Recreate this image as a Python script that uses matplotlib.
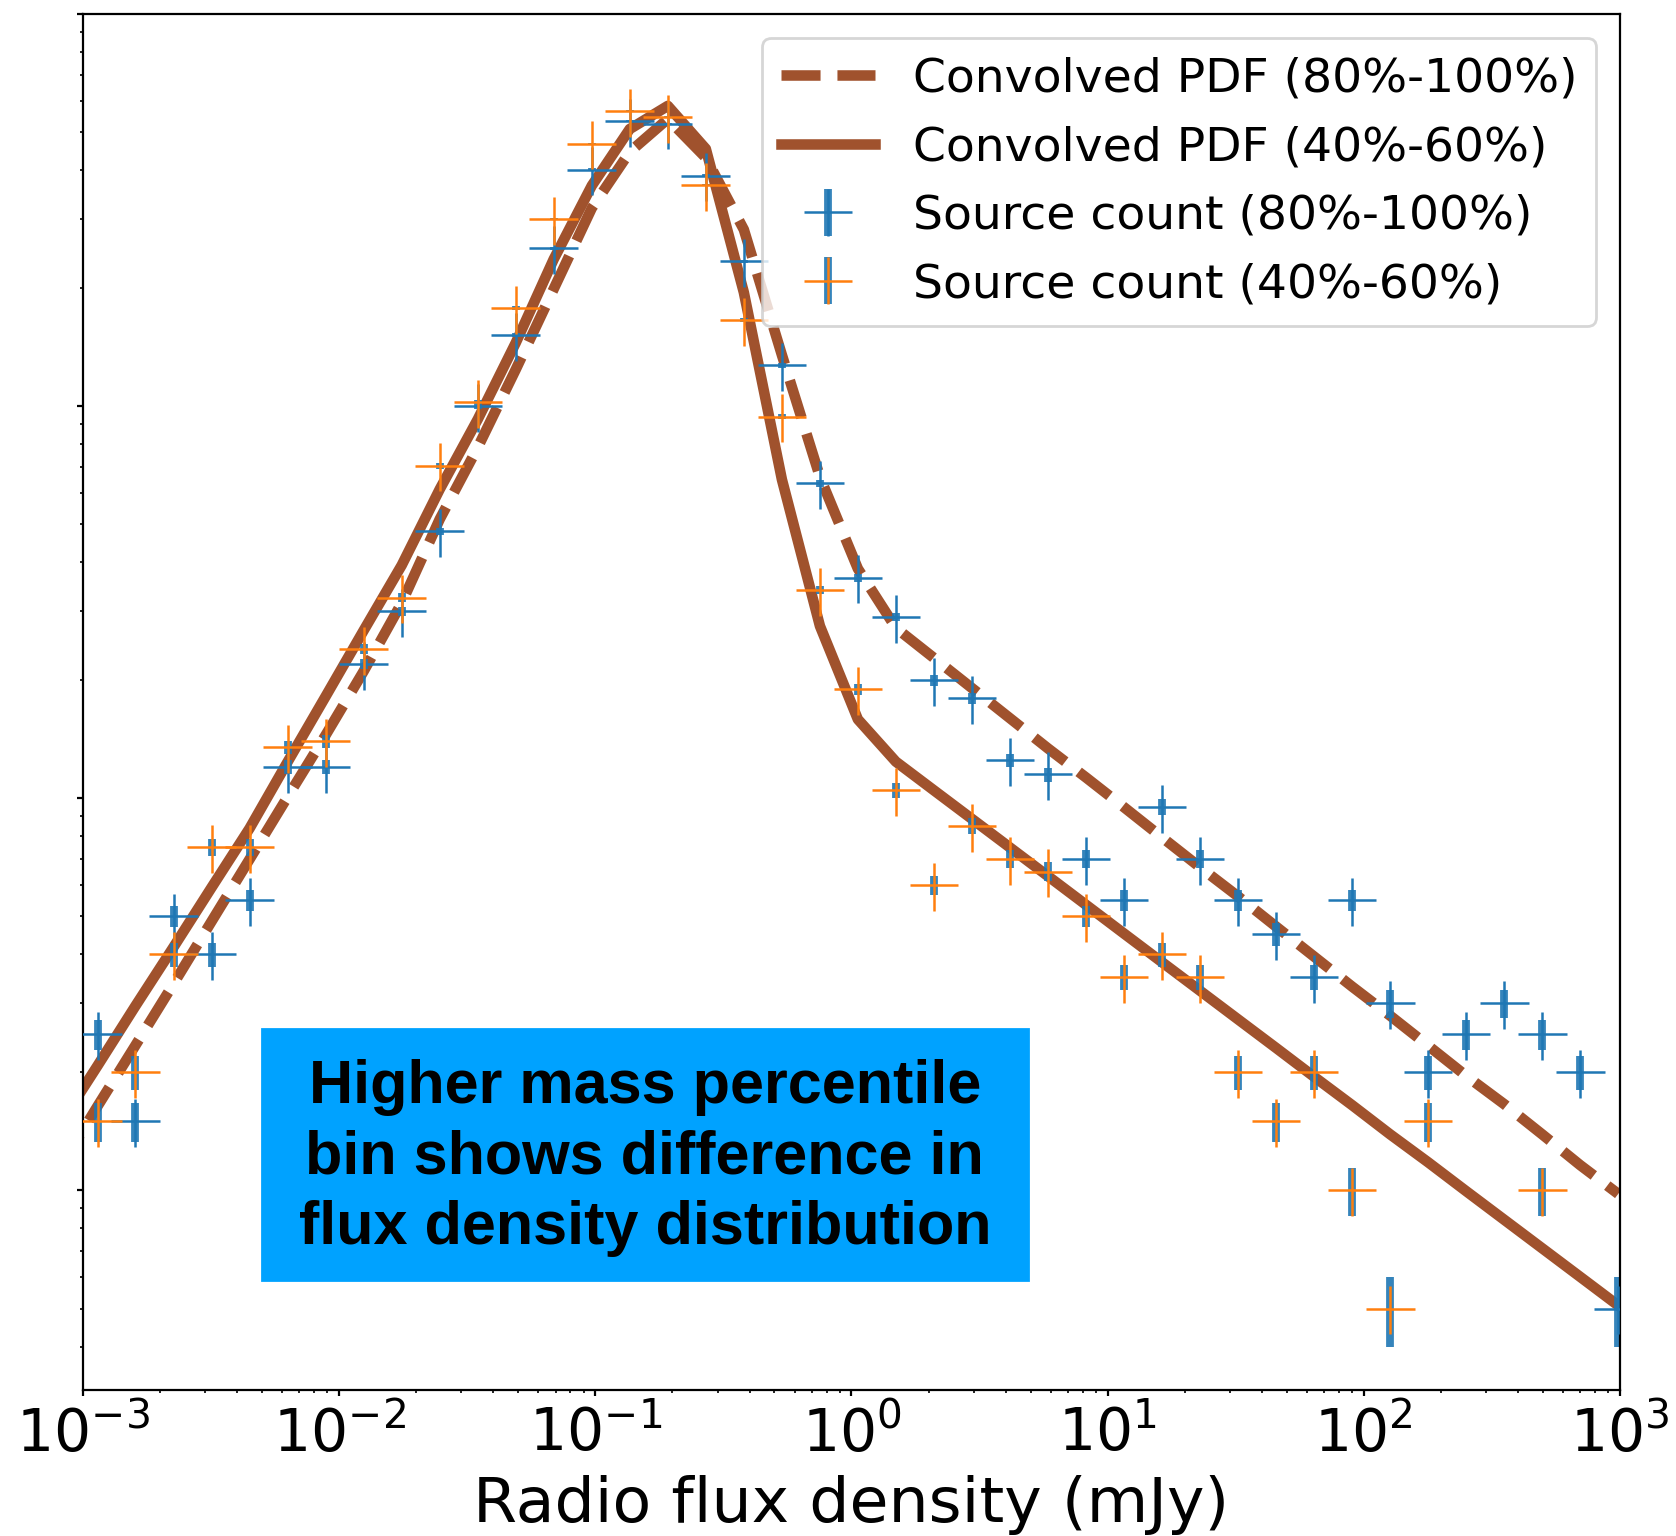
import numpy as np
import matplotlib
matplotlib.use("Agg")
import matplotlib.pyplot as plt
from matplotlib.patches import Rectangle
from matplotlib.legend_handler import HandlerTuple
from matplotlib.ticker import NullFormatter

# bin centres (mJy)
flux = [0.00114, 0.00160, 0.00226, 0.00318, 0.00447, 0.00630, 0.00886, 0.01247,
        0.01755, 0.0247, 0.0348, 0.0489, 0.0688, 0.0969, 0.1363, 0.1919,
        0.2700, 0.380, 0.535, 0.753, 1.059, 1.490, 2.097, 2.952, 4.155,
        5.85, 8.23, 11.58, 16.30, 22.94, 32.3, 45.4, 63.9, 90.0, 126.7,
        178.2, 250.8, 353.1, 496.9, 699.4, 984.0]

# source counts, 80%-100% and 40%-60% mass percentile bins
count_hi = [2.5, 1.5, 5, 4, 5.5, 12, 12, 22, 30, 48, 100, 152, 253, 401, 533,
            525, 387, 234, 127, 63.5, 36.5, 29, 20, 18, 12.5, 11.5, 7, 5.5,
            9.5, 7, 5.5, 4.5, 3.5, 5.5, 3, 2, 2.5, 3, 2.5, 2, 0.5]
count_lo = [1.5, 2, 4, 7.5, 7.5, 13.5, 14, 24, 32.5, 70.5, 102.5, 178, 300,
            467, 566, 546, 366, 166, 94, 34, 19, 10.5, 6, 8.5, 7, 6.5, 5,
            3.5, 4, 3.5, 2, 1.5, 2, 1, 0.5, 1.5, np.nan, np.nan, 1, np.nan,
            np.nan]

# convolved PDFs (one extra point left of the axis)
pdf_flux = [0.00081] + flux
pdf_hi = [1.14, 1.64, 2.34, 3.37, 4.86, 6.99, 10.1, 14.5, 21.1, 31.5, 51.5,
          78.6, 124, 199, 320, 445, 540, 430, 282, 135, 66, 38.5, 27.2, 22.8,
          19.1, 16.0, 13.4, 11.3, 9.49, 7.95, 6.67, 5.62, 4.71, 3.95, 3.31,
          2.79, 2.34, 1.96, 1.66, 1.39, 1.16, 0.98]
pdf_lo = [1.47, 2.08, 2.95, 4.18, 5.93, 8.38, 12.4, 18.2, 26.8, 39.3, 61.4,
          92.7, 145, 237, 365, 509, 583, 453, 195, 65, 27.5, 15.9, 12.4, 10.48,
          8.86, 7.49, 6.33, 5.35, 4.52, 3.82, 3.23, 2.73, 2.31, 1.95, 1.65,
          1.39, 1.18, 0.996, 0.842, 0.712, 0.602, 0.509]

x = np.array(flux)
hw = 10 ** 0.095
xerr = [x - x / hw, x * hw - x]

fig, ax = plt.subplots(figsize=(8.38, 7.68), dpi=200)
fig.subplots_adjust(left=0.0495, right=0.9666, top=0.9909, bottom=0.0951)

l1, = ax.plot(pdf_flux, pdf_hi, '--', color='sienna', lw=3.8)
l2, = ax.plot(pdf_flux, pdf_lo, '-', color='sienna', lw=3.8)

handles = []
for y, c in [(count_hi, 'C0'), (count_lo, 'C1')]:
    y = np.array(y, dtype=float)
    thick = ax.errorbar(x, y, yerr=0.1 * np.sqrt(2 * y), fmt='none',
                        ecolor='C0', elinewidth=2.8, alpha=0.9, zorder=2.5)
    thin = ax.errorbar(x, y, xerr=xerr, yerr=0.14 * y, fmt='none',
                       ecolor=c, elinewidth=0.9, zorder=3)
    handles.append((thick, thin))

ax.set_xscale('log')
ax.set_yscale('log')
ax.set_xlim(1e-3, 1e3)
ax.set_ylim(0.31, 1000)
ax.yaxis.set_major_formatter(NullFormatter())
ax.yaxis.set_minor_formatter(NullFormatter())
ax.tick_params(which='major', length=2.2, labelsize=21)
ax.tick_params(which='minor', length=1.1)
ax.set_xlabel('Radio flux density (mJy)', fontsize=22.8)

ax.legend([l1, l2] + handles,
          ['Convolved PDF (80%-100%)', 'Convolved PDF (40%-60%)',
           'Source count (80%-100%)', 'Source count (40%-60%)'],
          handler_map={tuple: HandlerTuple(ndivide=1, pad=0)},
          loc='upper right', fontsize=17)

ax.add_patch(Rectangle((0.1165, 0.080), 0.4983, 0.1824, transform=ax.transAxes,
                       color='#00a2ff', zorder=5))
ax.text(0.3655, 0.1686,
        'Higher mass percentile\nbin shows difference in\nflux density distribution',
        transform=ax.transAxes, ha='center', va='center', fontsize=22,
        fontweight='bold', family='Liberation Sans', linespacing=1.3, zorder=6)

plt.savefig('out.png', dpi=200)
